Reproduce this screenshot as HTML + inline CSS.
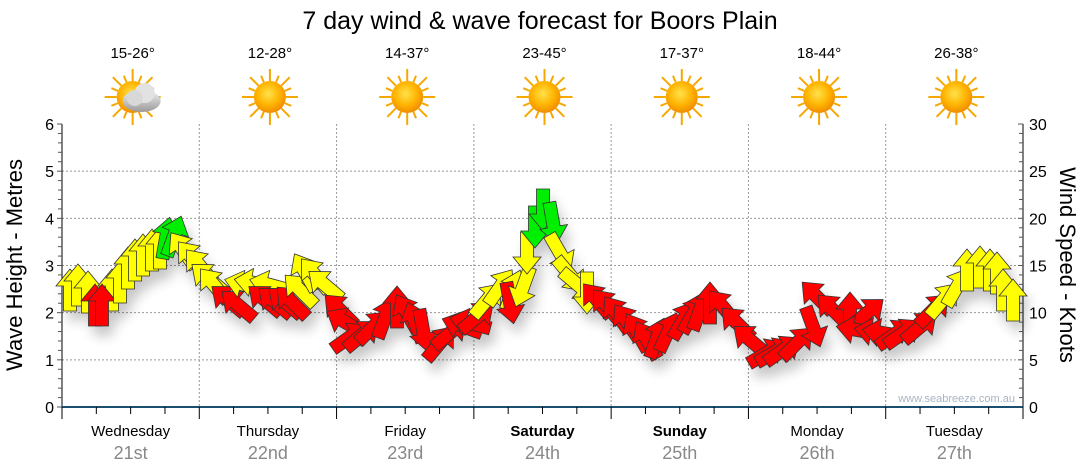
<!DOCTYPE html>
<html><head><meta charset="utf-8"><style>
body{margin:0;background:#fff;width:1080px;height:475px;overflow:hidden}
svg{display:block;font-family:"Liberation Sans",sans-serif}
</style></head><body>
<svg id="s" width="1080" height="475" viewBox="0 0 1080 475" xmlns="http://www.w3.org/2000/svg">
<defs>
<filter id="sh" x="-50%" y="-50%" width="200%" height="200%"><feGaussianBlur stdDeviation="6"/></filter>
<radialGradient id="sun" cx="0.45" cy="0.4" r="0.6"><stop offset="0" stop-color="#ffe24a"/><stop offset="0.6" stop-color="#ffb300"/><stop offset="1" stop-color="#f08c00"/></radialGradient>
<linearGradient id="cl" x1="0" y1="0" x2="0" y2="1"><stop offset="0" stop-color="#f2f2f2"/><stop offset="1" stop-color="#9a9a9a"/></linearGradient>
<polygon id="ar" points="0,-21 14,-4 6.5,-4 6.5,21 -6.5,21 -6.5,-4 -14,-4"/>
</defs>
<text x="540" y="29" font-size="25" text-anchor="middle" fill="#000">7 day wind &amp; wave forecast for Boors Plain</text>
<g id="hdr" font-size="15" text-anchor="middle" fill="#000"></g>
<g id="grid"></g>
<g id="shadows" filter="url(#sh)" fill="#000" opacity="0.22"></g>
<g id="arrows" stroke="#333" stroke-width="0.8"></g>
<text x="1015" y="402" font-size="11" fill="#a8b4c4" text-anchor="end">www.seabreeze.com.au</text>
<text transform="translate(22,265) rotate(-90)" font-size="22" text-anchor="middle">Wave Height - Metres</text>
<text transform="translate(1060,265) rotate(90)" font-size="22" text-anchor="middle">Wind Speed - Knots</text>
</svg>
<script>
var NS="http://www.w3.org/2000/svg";
function el(p,t,a,txt){var e=document.createElementNS(NS,t);for(var k in a)e.setAttribute(k,a[k]);if(txt!=null)e.textContent=txt;document.getElementById(p).appendChild(e);return e;}
var L=62,R=1023,T=124,B=407,H=(B-T)/6,DW=(R-L)/7;
var g='grid';
for(var i=1;i<=5;i++){var y=B-i*H;el(g,'line',{x1:L,x2:R-4,y1:y,y2:y,stroke:'#999','stroke-dasharray':'2,2','stroke-width':1});}
for(var d=1;d<7;d++){var x=L+d*DW;el(g,'line',{x1:x,x2:x,y1:T,y2:B,stroke:'#999','stroke-dasharray':'2,2','stroke-width':1});}
el(g,'line',{x1:L,x2:L,y1:T,y2:B,stroke:'#000'});
el(g,'line',{x1:R,x2:R,y1:T,y2:B,stroke:'#000'});
for(var i=0;i<=30;i++){var y=B-i*H/5,maj=i%5==0;el(g,'line',{x1:L-(maj?5:4),x2:L,y1:y,y2:y,stroke:'#555'});}
for(var i=0;i<=6;i++){el(g,'text',{x:L-8,y:B-i*H+6,'font-size':16,'text-anchor':'end'},String(i));}
for(var i=0;i<=30;i++){var y=B-i*(B-T)/30,maj=i%5==0;el(g,'line',{x1:R-(maj?5:4),x2:R,y1:y,y2:y,stroke:'#555'});if(maj)el(g,'text',{x:R+6,y:y+6,'font-size':16},String(i));}
el(g,'line',{x1:L,x2:R,y1:B,y2:B,stroke:'#1b4f72','stroke-width':2});
for(var i=0;i<=28;i++){var x=L+i*DW/4,maj=i%4==0;el(g,'line',{x1:x,x2:x,y1:B,y2:B+(maj?12:7),stroke:'#000'});}
var days=['Wednesday','Thursday','Friday','Saturday','Sunday','Monday','Tuesday'],dt=['21st','22nd','23rd','24th','25th','26th','27th'],tp=['15-26°','12-28°','14-37°','23-45°','17-37°','18-44°','26-38°'];
for(var d=0;d<7;d++){var cx=L+(d+0.5)*DW;
el(g,'text',{x:cx,y:436,'font-size':15,'text-anchor':'middle','font-weight':(d==3||d==4)?'bold':'normal'},days[d]);
el(g,'text',{x:cx,y:459,'font-size':18,'text-anchor':'middle',fill:'#888'},dt[d]);
var hx=L+(d+0.5)*DW+2;el('hdr','text',{x:hx,y:58},tp[d]);
var cy=97;for(var k=0;k<16;k++){var a=k*Math.PI/8,r1=16,r2=(k%2?23:28);el('hdr','line',{x1:hx+r1*Math.cos(a),y1:cy+r1*Math.sin(a),x2:hx+r2*Math.cos(a),y2:cy+r2*Math.sin(a),stroke:'#f5a800','stroke-width':2});}
el('hdr','circle',{cx:hx,cy:cy,r:16,fill:'url(#sun)'});
if(d==0){el('hdr','ellipse',{cx:hx+9,cy:cy+4,rx:19,ry:11,fill:'url(#cl)'});el('hdr','circle',{cx:hx+12,cy:cy-4,r:10,fill:'#e2e2e2'});el('hdr','circle',{cx:hx+2,cy:cy+1,r:8,fill:'#d8d8d8'});}
}
var Y='#ffff00',Rd='#ff0000',G='#00ee00';
var A=[[70,290,0,Y],[78,285,0,Y],[88,292,0,Y],[112,290,0,Y],[95,305,0,Rd],[102,305,0,Rd],[120,282,0,Y],[128,268,0,Y],[135,260,0,Y],[143,255,0,Y],[152,250,0,Y],[160,248,0,Y],[166,238,10,G],[174,236,20,G],[183,250,-35,Y],[192,258,-40,Y],[200,266,-40,Y],[208,278,-50,Y],[214,285,-40,Y],
[228,300,-50,Rd],[238,305,-50,Rd],[245,285,-75,Y],[255,283,-80,Y],[270,285,-75,Y],[265,300,-50,Rd],[275,302,-50,Rd],[285,302,-50,Rd],[292,302,-45,Rd],[300,290,-45,Y],[305,272,-30,Y],[315,275,-40,Y],[325,285,-50,Y],[340,310,-45,Rd],[345,322,-60,Rd],
[350,337,55,Rd],[362,335,50,Rd],[373,327,45,Rd],[385,318,20,Rd],[397,307,0,Rd],[407,313,-30,Rd],[415,322,-20,Rd],[423,330,170,Rd],[440,343,40,Rd],[450,333,50,Rd],[462,326,-70,Rd],[470,323,-75,Rd],[477,317,50,Rd],[487,300,40,Y],[500,287,35,Y],[513,290,20,Y],[510,303,170,Rd],[523,287,200,Y],[527,253,180,Y],[535,227,180,G],[543,210,180,G],[553,223,170,G],[560,253,150,Y],[570,275,140,Y],[578,285,130,Y],[587,293,180,Y],
[597,300,-40,Rd],[607,306,-40,Rd],[617,314,-35,Rd],[627,322,-35,Rd],[637,332,-30,Rd],[647,340,-30,Rd],[657,338,20,Rd],[668,332,25,Rd],[683,320,30,Rd],[693,314,30,Rd],[700,310,20,Rd],[710,303,0,Rd],[723,307,-40,Rd],[737,323,-45,Rd],[750,340,-50,Rd],[767,353,60,Rd],[775,352,60,Rd],[783,350,55,Rd],[797,343,45,Rd],[813,327,160,Rd],[817,297,-45,Rd],[833,310,-45,Rd],[850,313,0,Rd],[867,313,50,Rd],[857,330,-80,Rd],[875,332,-80,Rd],[883,333,-80,Rd],[895,334,55,Rd],[903,333,55,Rd],[920,327,50,Rd],[933,310,45,Rd],[943,300,40,Y],[957,287,30,Y],[967,270,0,Y],[980,267,0,Y],[990,270,0,Y],[997,273,0,Y],[1003,290,0,Y],[1013,300,0,Y]];
A.forEach(function(a){el('shadows','use',{href:'#ar',transform:'translate('+(a[0]+5)+','+(a[1]+10)+') rotate('+a[2]+')'});});
A.forEach(function(a){el('arrows','use',{href:'#ar',fill:a[3],transform:'translate('+a[0]+','+a[1]+') rotate('+a[2]+')'});});
</script>
</body></html>
